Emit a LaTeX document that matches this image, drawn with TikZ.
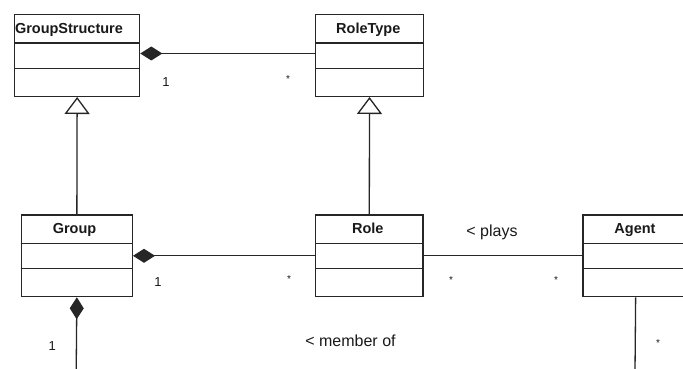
\documentclass[tikz,border=0pt]{standalone}
\usepackage{fontspec}
\setmainfont{Liberation Sans}
\usetikzlibrary{arrows.meta}
\tikzset{
  classbox/.style={draw=black!85, line width=1.3pt, minimum width=#1, minimum height=81.7pt, inner sep=0pt, anchor=north west},
  divider/.style={draw=black!85, line width=1.3pt},
  ctitle/.style={inner sep=0pt, text=black!90, font=\fontsize{14.5}{16}\selectfont\bfseries},
  lbl/.style={inner sep=0pt, text=black!90, font=\fontsize{16}{18}\selectfont},
  mult/.style={inner sep=0pt, text=black!90, font=\fontsize{13}{15}\selectfont},
  star/.style={inner sep=0pt, text=black!90, font=\fontsize{10}{12}\selectfont},
  conn/.style={draw=black!85, line width=1.3pt},
  comp/.style={conn, {Diamond[length=22pt,width=14pt,fill=black!85]}-},
  gen/.style={conn, -{Triangle[open,length=17pt,width=25pt]}},
}
\begin{document}
\begin{tikzpicture}[x=1pt,y=-1pt]
\clip (0,0) rectangle (683,369);
\fill[white] (0,0) rectangle (683,369);
% classes
\node[classbox=125pt] (gs) at (14,14) {};
\node[classbox=107.7pt] (rt) at (315,14) {};
\node[classbox=111pt] (g) at (20.7,214.3) {};
\node[classbox=107.3pt] (r) at (315,214.3) {};
\node[classbox=105.4pt] (a) at (582.3,214.3) {};
% dividers
\foreach \n in {gs,rt,g,r,a}{
  \draw[divider] ([yshift=-28.9pt]\n.north west) -- ([yshift=-28.9pt]\n.north east);
  \draw[divider] ([yshift=-54.2pt]\n.north west) -- ([yshift=-54.2pt]\n.north east);
}
% titles
\node[ctitle, anchor=base west] (gsT) at (14.8,33.3) {GroupStructure};
\node[ctitle, anchor=base] (rtT) at (368.3,33.3) {RoleType};
\node[ctitle, anchor=base] (gT) at (74.5,233.3) {Group};
\node[ctitle, anchor=base] (rT) at (367.8,233.3) {Role};
\node[ctitle, anchor=base] (aT) at (635,233.3) {Agent};
% connectors
\draw[comp] ([yshift=2pt]gs.east) -- ([yshift=2pt]gs.east -| rt.west);
\draw[gen] (g.north) -- (gs.south);
\draw[gen] (r.north) -- (rt.south);
\draw[comp] (g.east) -- (r.west);
\draw[conn] (r.east) -- (a.west);
\coordinate (gbot) at (76.2,372);
\coordinate (abot) at (635,372);
\draw[comp] (g.south) -- (gbot);
\draw[conn] (a.south) -- (abot);
% labels
\node[mult, anchor=base] (m1) at (166,86.7) {1};
\node[star] (s1) at (288,79) {*};
\node[mult, anchor=base] (m2) at (158,286.7) {1};
\node[star] (s2) at (289,279.5) {*};
\node[lbl, anchor=base] (plays) at (492,236.5) {< plays};
\node[star] (s3) at (451,280) {*};
\node[star] (s4) at (556,280) {*};
\node[mult, anchor=base] (m3) at (52.3,350) {1};
\node[lbl, anchor=base] (member) at (350.5,346.7) {< member of};
\node[star] (s5) at (658,342.7) {*};
\end{tikzpicture}
\end{document}
